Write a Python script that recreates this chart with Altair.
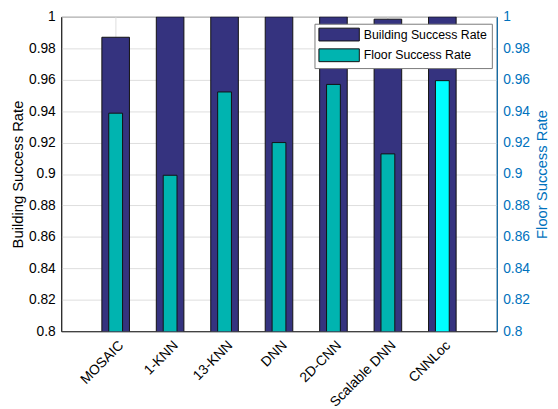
import altair as alt
import pandas as pd

methods = ["MOSAIC", "1-KNN", "13-KNN", "DNN", "2D-CNN", "Scalable DNN", "CNNLoc"]
building = [0.987, 1.0, 1.0, 1.0, 1.0, 0.9985, 1.0]
floor = [0.9387, 0.8992, 0.9522, 0.9200, 0.9570, 0.9128, 0.9594]
floor_series = ["Floor Success Rate"] * 6 + ["Floor Success Rate (CNNLoc)"]

series_names = ["Building Success Rate", "Floor Success Rate", "Floor Success Rate (CNNLoc)"]
series_colors = ["#35337F", "#00B4B0", "#00FFFF"]
y_ticks = [0.8, 0.82, 0.84, 0.86, 0.88, 0.9, 0.92, 0.94, 0.96, 0.98, 1.0]

df = pd.DataFrame({
    "method": methods,
    "building": building,
    "floor": floor,
    "floor_series": floor_series,
    "building_series": ["Building Success Rate"] * len(methods),
})

FONT = "Liberation Sans"
BLUE = "#0072BD"

x_axis = alt.Axis(
    title=None, labelAngle=315, labelAlign="right", labelBaseline="middle",
    labelPadding=12, labelOffset=6, labelFontSize=14, labelColor="#000000", labelFont=FONT,
    ticks=False, domainColor="#262626", grid=True, gridColor="#DDDDDD",
    bandPosition=0.5,
)
x_enc = alt.X("method:N", sort=methods, axis=x_axis,
              scale=alt.Scale(paddingInner=0, paddingOuter=0.5))

color_scale = alt.Scale(domain=series_names, range=series_colors)

bld = alt.Chart(df).mark_bar(size=28, stroke="#111111", strokeWidth=1, clip=True).encode(
    x=x_enc,
    y=alt.Y("building:Q",
            scale=alt.Scale(domain=[0.8, 1.0], zero=False, nice=False),
            axis=alt.Axis(title="Building Success Rate", values=y_ticks, format="~g",
                          labelFontSize=14, labelFont=FONT, labelColor="#000000",
                          titleFontSize=15, titleFont=FONT, titleFontWeight="normal",
                          titleColor="#000000", ticks=False, labelPadding=6,
                          domainColor="#262626", grid=True, gridColor="#DDDDDD",
                          titleAngle=270, titleX=-44, titleY=159.5,
                          titleAlign="center", titleBaseline="middle")),
    color=alt.Color("building_series:N", scale=color_scale,
                    legend=alt.Legend(
                        title=None, values=series_names[:2], orient="none",
                        legendX=257, legendY=7,
                        symbolType="M-3.154,-1H3.154V1H-3.154Z", symbolSize=169,
                        symbolOffset=14,
                        symbolStrokeColor="#000000", symbolStrokeWidth=1,
                        symbolOpacity=1,
                        labelFontSize=12.5, labelFont=FONT, labelColor="#000000",
                        labelOffset=18, padding=4, rowPadding=3,
                        strokeColor="#7A7A7A", fillColor="#FFFFFF")),
)

flr = alt.Chart(df).mark_bar(size=14, stroke="#111111", strokeWidth=1, clip=True).encode(
    x=x_enc,
    y=alt.Y("floor:Q",
            scale=alt.Scale(domain=[0.8, 1.0], zero=False, nice=False),
            axis=alt.Axis(title="Floor Success Rate", orient="right", values=y_ticks,
                          format="~g", labelFontSize=14, labelFont=FONT, labelColor=BLUE,
                          titleFontSize=15, titleFont=FONT, titleFontWeight="normal",
                          titleColor=BLUE, ticks=False, labelPadding=6,
                          domainColor=BLUE, grid=False,
                          titleAngle=270, titleX=45, titleY=159.5,
                          titleAlign="center", titleBaseline="middle")),
    color=alt.Color("floor_series:N", scale=color_scale),
)

chart = alt.layer(bld, flr).resolve_scale(y="independent").properties(
    width=442, height=319,
    autosize=alt.AutoSizeParams(type="none"),
    padding={"left": 54, "top": 6, "right": 54, "bottom": 76},
).configure_view(stroke="#262626", strokeWidth=1)

chart.save("out.html", embed_options={"renderer": "svg", "actions": False})
